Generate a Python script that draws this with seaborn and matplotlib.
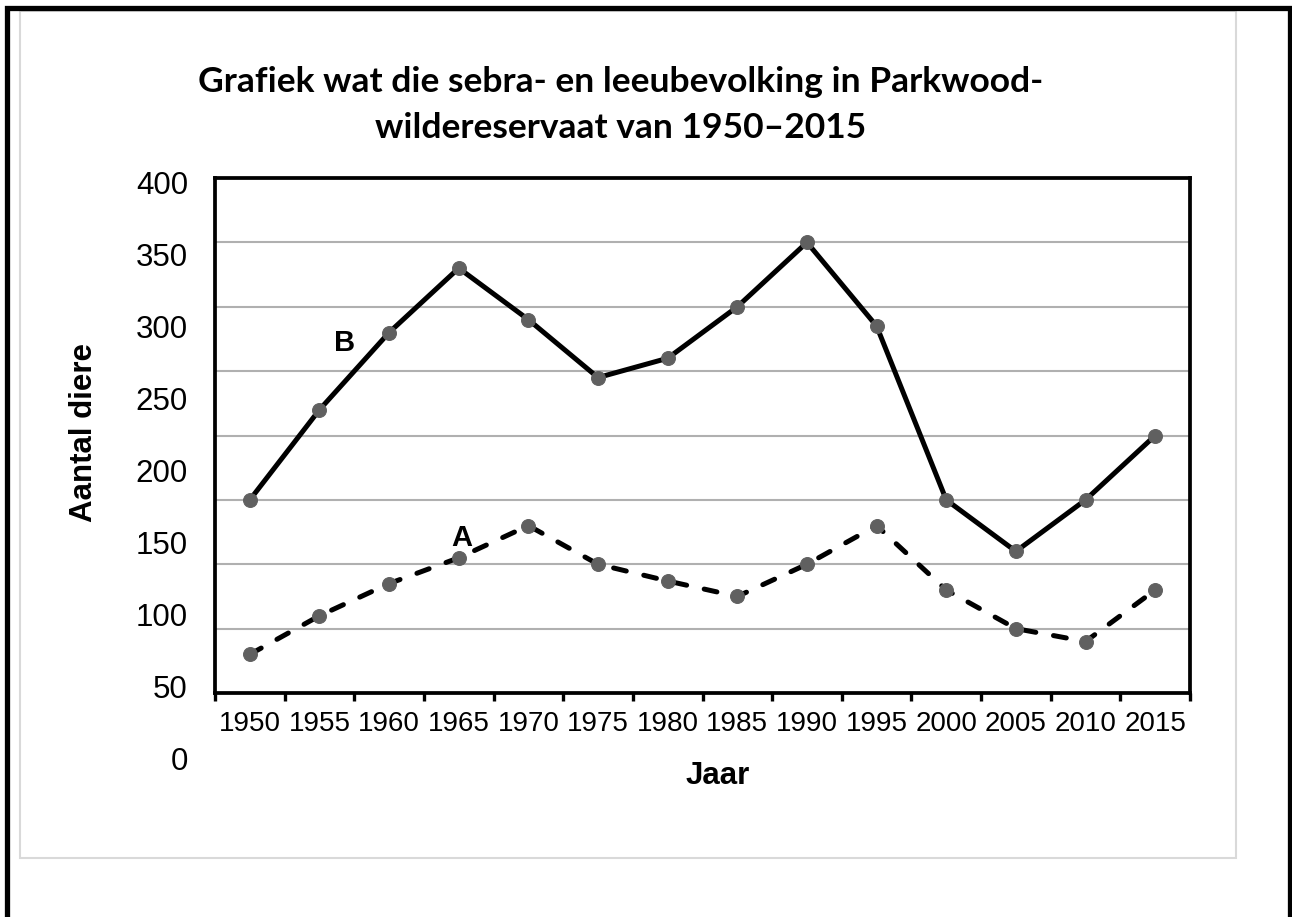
import numpy as np
import pandas as pd
import matplotlib
matplotlib.use("Agg")
import matplotlib.pyplot as plt
import seaborn as sns
from matplotlib.patches import Rectangle
from matplotlib.lines import Line2D

# ---------------- data ----------------
years = [1950, 1955, 1960, 1965, 1970, 1975, 1980, 1985, 1990, 1995, 2000, 2005, 2010, 2015]
series_B = [150, 220, 280, 330, 290, 245, 260, 300, 350, 285, 150, 110, 150, 200]
series_A = [30, 60, 85, 105, 130, 100, 87, 75, 100, 130, 80, 50, 40, 80]
y_tick_values = [0, 50, 100, 150, 200, 250, 300, 350, 400]
grid_values = [50, 100, 150, 200, 250, 300, 350]

title_text = "Grafiek wat die sebra- en leeubevolking in Parkwood-\nwildereservaat van 1950\u20132015"
xlabel_text = "Jaar"
ylabel_text = "Aantal diere"

# ---------------- style ----------------
sns.set_style("white")
plt.rcParams["font.family"] = ["Liberation Sans", "DejaVu Sans"]
plt.rcParams["text.color"] = "black"
plt.rcParams["axes.labelcolor"] = "black"
plt.rcParams["xtick.color"] = "black"
plt.rcParams["ytick.color"] = "black"

W, H = 1292, 917
fig = plt.figure(figsize=(W / 100, H / 100), dpi=100)
fig.patch.set_facecolor("white")

def fx(px):
    return px / W

def fy(py):
    return 1 - py / H

# axes carrying the (offset) y tick labels
lab_ax = fig.add_axes([fx(215), fy(758), fx(1190) - fx(215), fy(182) - fy(758)])
lab_ax.set_facecolor("none")
lab_ax.set_ylim(0, 400)
lab_ax.set_xlim(0, 1)
lab_ax.set_yticks(y_tick_values)
lab_ax.set_yticklabels([str(v) for v in y_tick_values], fontsize=22.5)
lab_ax.set_xticks([])
lab_ax.tick_params(axis="y", length=0, pad=19.5, labelcolor="black")
for s in lab_ax.spines.values():
    s.set_visible(False)

# main plotting axes
ax = fig.add_axes([fx(215), fy(693), fx(1190) - fx(215), fy(178) - fy(693)])
ax.set_facecolor("none")

df = pd.DataFrame({"idx": np.arange(len(years)), "year": years, "A": series_A, "B": series_B})

marker_color = "#606060"
sns.lineplot(data=df, x="idx", y="A", ax=ax, color="black", linewidth=3.6,
             linestyle=(0, (2.6, 3.6)), dash_capstyle="round",
             marker="o", markersize=10, markerfacecolor=marker_color,
             markeredgecolor=marker_color, zorder=4)
sns.lineplot(data=df, x="idx", y="B", ax=ax, color="black", linewidth=3.6,
             solid_capstyle="round", solid_joinstyle="round",
             marker="o", markersize=10, markerfacecolor=marker_color,
             markeredgecolor=marker_color, zorder=4)

ax.set_xlim(-0.5, len(years) - 0.5)
ax.set_ylim(0, 400)

# gridlines
for g in grid_values:
    ax.axhline(g, color="#b0b0b0", linewidth=1.5, zorder=1)

# y axis: no labels on main axes
ax.set_yticks([])

# x axis ticks: boundaries (major) + labels at centres (minor)
ax.set_xticks(np.arange(-0.5, len(years), 1.0))
ax.set_xticklabels([])
ax.set_xticks(np.arange(len(years)), minor=True)
ax.set_xticklabels([str(y) for y in years], minor=True, fontsize=20)
ax.tick_params(axis="x", which="major", direction="out", length=6, width=2.4,
               color="black", bottom=True)
ax.tick_params(axis="x", which="minor", length=0, pad=13, bottom=True, labelcolor="black")

for s in ax.spines.values():
    s.set_visible(True)
    s.set_color("black")
    s.set_linewidth(2.7)

ax.set_xlabel(xlabel_text, fontsize=22.5, fontweight="bold", color="black")
ax.xaxis.set_label_coords((718 - 215) / 975, (693 - 776) / 515)
ax.xaxis.label.set_va("center")
ax.set_ylabel(ylabel_text, fontsize=22.5, fontweight="bold", color="black")
ax.yaxis.set_label_coords((84 - 215) / 975, (693 - 433) / 515)
ax.yaxis.label.set_va("center")

# series labels
ax.text(1.36, 272, "B", fontsize=21, fontweight="bold", ha="center", va="center",
        color="black", zorder=5)
ax.text(3.05, 120, "A", fontsize=21, fontweight="bold", ha="center", va="center",
        color="black", zorder=5)

# title
fig.text(fx(621), fy(105), title_text, ha="center", va="center", color="black",
         fontsize=25.5, fontweight="bold", family=["Lato", "DejaVu Sans"], linespacing=1.52)

# inner light-grey chart frame
fig.patches.append(Rectangle((fx(20), fy(858)), fx(1236) - fx(20), fy(11) - fy(858),
                             transform=fig.transFigure, fill=False,
                             edgecolor="#d9d9d9", linewidth=1.5, zorder=0))
# outer black border (left, top, right)
fig.lines.append(Line2D([fx(6.5), fx(6.5), fx(1289.5), fx(1289.5)],
                        [0, fy(7.5), fy(7.5), 0], transform=fig.transFigure,
                        color="black", linewidth=3.8, solid_joinstyle="miter"))

fig.savefig("out.png", dpi=100, facecolor="white")
